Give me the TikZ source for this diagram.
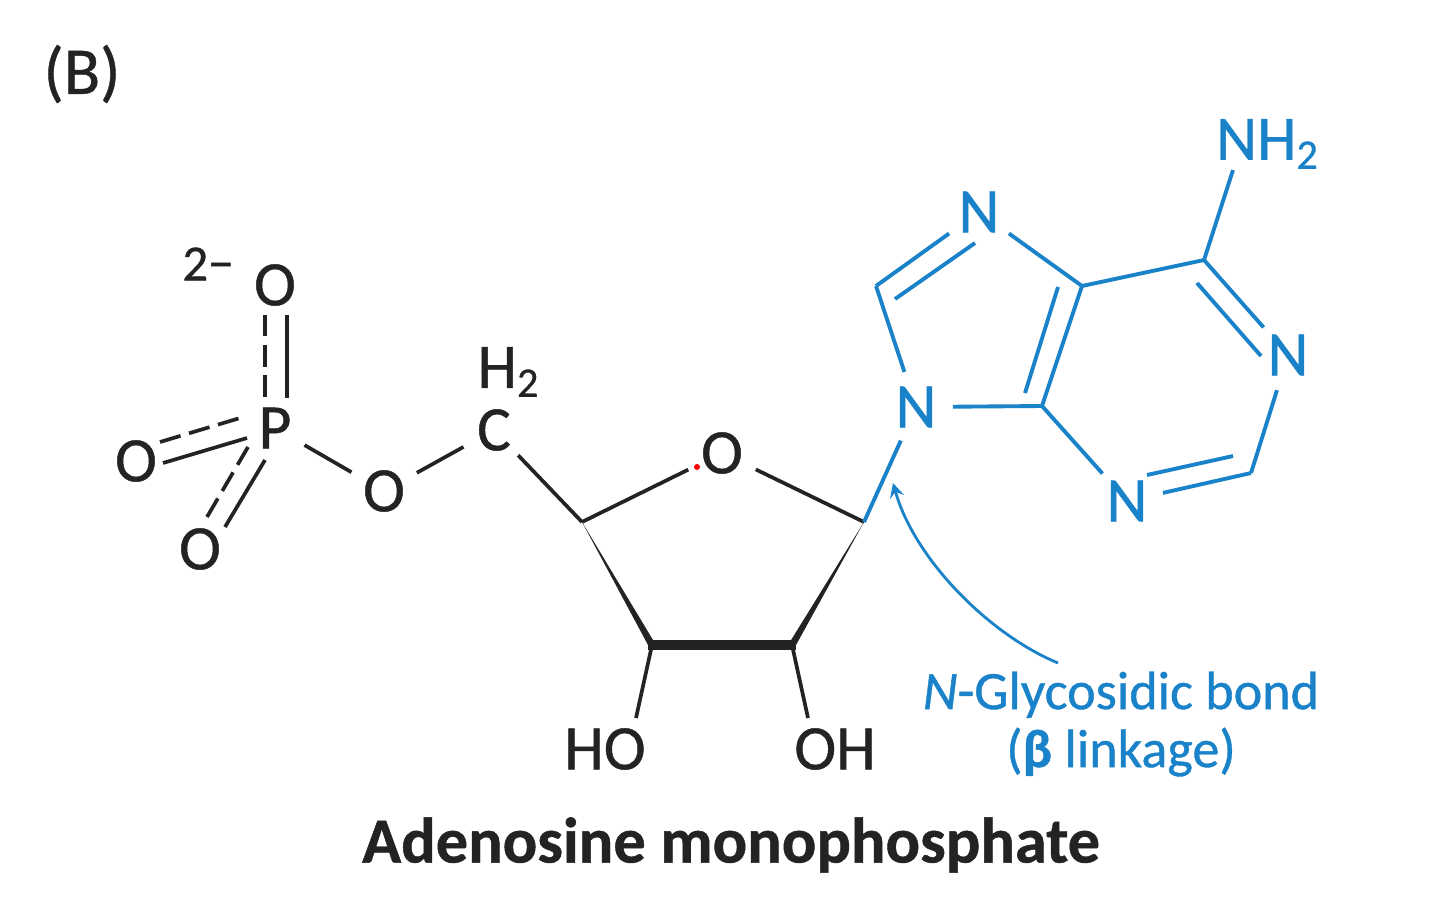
\documentclass[tikz,border=0pt]{standalone}
\usepackage{fontspec}
\setmainfont[RawFeature={embolden=0.7}]{Carlito}
\usetikzlibrary{calc}
\definecolor{bondblue}{RGB}{25,130,200}
\definecolor{inkgray}{RGB}{35,35,35}
\newcommand{\subtwo}{\raisebox{-0.3ex}{\fontsize{12}{12}\selectfont 2}}
\tikzset{
	atom/.style={circle, inner sep=1.5pt, font=\fontsize{18}{18}\selectfont, text=inkgray},
	baseatom/.style={atom, text=bondblue},
	bond/.style={draw=inkgray, line width=1.05pt},
	hashbond/.style={bond, dash pattern=on 6.1pt off 2.5pt},
	basebond/.style={draw=bondblue, line width=1.1pt},
}
\begin{document}
\begin{tikzpicture}[x=0.01cm, y=-0.01cm]
	\useasboundingbox (0,0) rectangle (1440,897);
	\node [atom, font=\fontsize{19}{19}\selectfont] (panel) at (82,74) {(B)};
	\node [atom, font=\fontsize{14.5}{14.5}\selectfont] (charge) at (208,264) {2−};
	\node [atom] (otop) at (275,285) {O};
	\node [atom] (phos) at (275,428) {P};
	\node [atom] (oleft) at (136,461) {O};
	\node [atom] (obot) at (200,549) {O};
	\node [atom] (oest) at (384,491) {O};
	\node [atom] (cfive) at (494,430) {C};
	\node [atom, inner sep=0pt] (hfive) at (508,372) {H\subtwo};
	\node [atom] (oring) at (722,453) {O};
	\node [atom] (hotwo) at (605,749) {HO};
	\node [atom] (ohone) at (835,749) {OH};
	\coordinate (cfour) at (582,522);
	\coordinate (cone) at (864,522);
	\coordinate (ctwo) at (792,645);
	\coordinate (cthree) at (652,645);
	\coordinate (hoend) at (636,718);
	\coordinate (ohend) at (808,718);

	\draw [bond] (phos) -- (oest);
	\draw [bond] (oest) -- (cfive);
	\draw [bond] (cfive) -- (cfour);
	\draw [bond] (cfour) -- (oring);
	\draw [bond] (oring) -- (cone);
	\draw [bond] (cthree) -- (hoend);
	\draw [bond] (ctwo) -- (ohend);
	\draw [bond, line width=2.7pt] ($(cthree)+(-4,0)$) -- ($(ctwo)+(4,0)$);
	\fill [inkgray] (cfour) -- ($(cthree)+(-4,0)$) -- ($(cthree)+(4,0)$) -- cycle;
	\fill [inkgray] (cone) -- ($(ctwo)+(4,0)$) -- ($(ctwo)+(-4,0)$) -- cycle;
	\fill [red] (697,467) circle (3);

	\coordinate (ta) at (287,315);
	\coordinate (tb) at (287,398);
	\coordinate (tc) at (265,315);
	\coordinate (td) at (265,397);
	\draw [bond] (ta) -- (tb);
	\draw [hashbond] (tc) -- (td);
	\coordinate (la) at (163,463);
	\coordinate (lb) at (247,438);
	\coordinate (lc) at (160,442);
	\coordinate (ld) at (240,418);
	\draw [bond] (la) -- (lb);
	\draw [hashbond] (lc) -- (ld);
	\coordinate (ba) at (225,527);
	\coordinate (bb) at (265,460);
	\coordinate (bc) at (207,517);
	\coordinate (bd) at (248,447);
	\draw [bond] (ba) -- (bb);
	\draw [hashbond] (bc) -- (bd);

	\node [baseatom] (nnine) at (916,407) {N};
	\node [baseatom] (nseven) at (979,212) {N};
	\node [baseatom] (none) at (1288,355) {N};
	\node [baseatom] (nthree) at (1127,501) {N};
	\node [baseatom, inner sep=0pt] (amine) at (1267,144) {NH\subtwo};
	\coordinate (ceight) at (876,286);
	\coordinate (cfb) at (1082,286);
	\coordinate (cfa) at (1042,406);
	\coordinate (csix) at (1204,260);
	\coordinate (ctw) at (1251,473);
	\coordinate (aminefoot) at (1233,170);

	\draw [basebond] (cone) -- (nnine);
	\draw [basebond] (nnine) -- (ceight);
	\draw [basebond] (ceight) -- (nseven);
	\draw [basebond] (nseven) -- (cfb);
	\draw [basebond] (cfb) -- (cfa);
	\draw [basebond] (cfa) -- (nnine);
	\draw [basebond] (cfb) -- (csix);
	\draw [basebond] (csix) -- (none);
	\draw [basebond] (none) -- (ctw);
	\draw [basebond] (ctw) -- (nthree);
	\draw [basebond] (nthree) -- (cfa);
	\draw [basebond] (csix) -- (aminefoot);

	\coordinate (ia) at (895,299);
	\coordinate (ib) at (975,243);
	\draw [basebond] (ia) -- (ib);
	\coordinate (ic) at (1058,287);
	\coordinate (id) at (1025,393);
	\draw [basebond] (ic) -- (id);
	\coordinate (ie) at (1197,283);
	\coordinate (if) at (1261,356);
	\draw [basebond] (ie) -- (if);
	\coordinate (ig) at (1233,456);
	\coordinate (ih) at (1147,475);
	\draw [basebond] (ig) -- (ih);

	\node [atom, text=bondblue, font=\fontsize{15.4}{16.5}\selectfont, align=center, inner sep=0pt, rectangle] (label) at (1121,724) {\textit{N}-Glycosidic bond\\(\textbf{β} linkage)};
	\coordinate (tail) at (1058,663);
	\coordinate (tip) at (893,483);
	\draw [basebond, line width=0.8pt, -stealth] (tail) .. controls (990,635) and (915,560) .. (tip);
	\node [atom, rectangle, inner sep=0pt, font=\fontsize{18.3}{18.3}\selectfont\bfseries] (title) at (731,845) {Adenosine monophosphate};
\end{tikzpicture}
\end{document}
